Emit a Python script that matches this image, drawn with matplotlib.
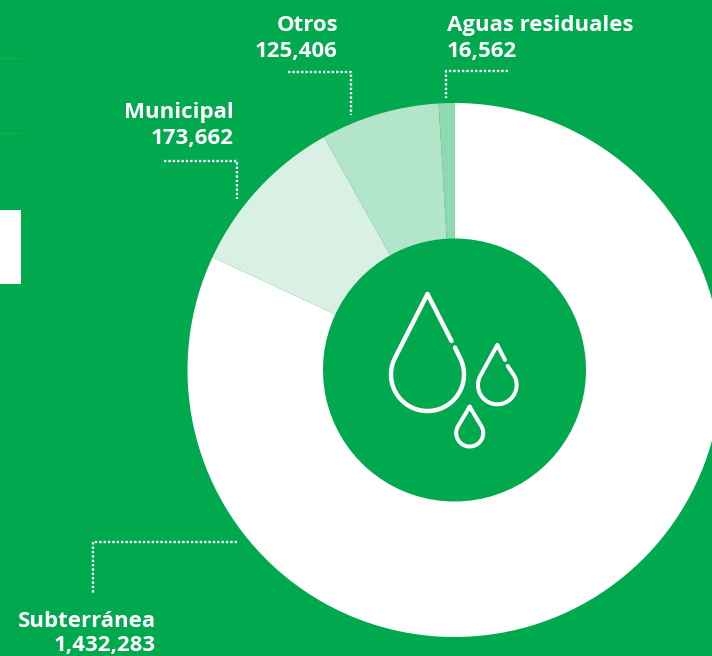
import numpy as np
import matplotlib
matplotlib.use('Agg')
import matplotlib.pyplot as plt
from matplotlib.patches import Rectangle

plt.rcParams['font.family'] = ['Open Sans', 'DejaVu Sans']

categories = ['Subterránea', 'Municipal', 'Otros', 'Aguas residuales']
values = [1432283, 173662, 125406, 16562]
value_labels = ['1,432,283', '173,662', '125,406', '16,562']

GREEN = '#00A84E'
slice_colors = ['#FFFFFF', '#D9F1E4', '#B3E5CA', '#90D8B0']

H = 656

fig = plt.figure(figsize=(7.12, 6.56), dpi=100, facecolor=GREEN)
ax = fig.add_axes([0, 0, 1, 1])

ax.pie(values, colors=slice_colors, startangle=90, counterclock=False,
       center=(454.5, H - 370), radius=267,
       wedgeprops={'width': 135.5, 'linewidth': 0})

ax.set_xlim(0, 712)
ax.set_ylim(0, H)
ax.set_aspect('equal')
ax.axis('off')


# pixel helper, y measured from the top like the reference
def line(xs, ys, **kw):
    ax.plot(xs, [H - y for y in ys], **kw)


# leftovers of the neighbouring panel at the left edge
line([0, 20], [58, 58], color='#33A845', lw=0.7)
line([0, 20], [133, 133], color='#33A845', lw=0.7)
ax.add_patch(Rectangle((0, H - 284), 20.5, 74, fc='white', ec='none'))

# dotted leaders
dots = {'color': 'white', 'lw': 1.7, 'ls': (0, (1, 0.85)), 'dash_capstyle': 'butt'}
line([288, 351, 351], [71.5, 71.5, 115], **dots)
line([164, 237, 237], [160.5, 160.5, 199], **dots)
line([508, 446, 446], [71, 71, 98], **dots)
line([237, 93, 93], [542, 542, 593], **dots)

# labels
txt = {'color': 'white', 'fontsize': 16, 'fontweight': 'bold', 'va': 'baseline'}
ax.text(338, H - 31, categories[2], ha='right', **txt)
ax.text(338, H - 57, value_labels[2], ha='right', **txt)
ax.text(234, H - 118, categories[1], ha='right', **txt)
ax.text(234, H - 144, value_labels[1], ha='right', **txt)
ax.text(447, H - 31, categories[3], ha='left', **txt)
ax.text(447, H - 57, value_labels[3], ha='left', **txt)
ax.text(156, H - 627, categories[0], ha='right', **txt)
ax.text(156, H - 651.5, value_labels[0], ha='right', **txt)


# water drop icon: tip + tangent arc, optional gap on the right side
def drop(cx, cy, r, tip_y, gap=None, lw=3.2):
    d = cy - tip_y
    a = np.arcsin(r / d)
    # angle measured clockwise from straight up, tangent point on the right
    start = np.pi / 2 - a
    t = np.linspace(start, 2 * np.pi - start, 120)
    xs = np.r_[cx, cx + r * np.sin(t), cx]
    ys = np.r_[tip_y, cy - r * np.cos(t), tip_y]
    if gap is None:
        line(xs, ys, color='white', lw=lw, solid_capstyle='round', solid_joinstyle='round')
        return
    # right flank: from the tip down to the gap, then the rest from below the gap
    line([cx, gap[0]], [tip_y, gap[1]], color='white', lw=lw, solid_capstyle='round')
    keep = ys[1:-1] >= gap[3]
    keep_x = xs[1:-1][keep]
    keep_y = ys[1:-1][keep]
    line(np.r_[gap[2], keep_x, cx], np.r_[gap[3], keep_y, tip_y], color='white', lw=lw,
         solid_capstyle='round', solid_joinstyle='round')


drop(427.5, 374.5, 36.5, 294, gap=(451.5, 341, 455, 347.5))
drop(497.3, 385, 19.3, 345, gap=(505, 360, 507.7, 366), lw=2.9)
drop(469.7, 433, 13.5, 406.7, lw=2.9)

fig.savefig('out.png', dpi=100)
